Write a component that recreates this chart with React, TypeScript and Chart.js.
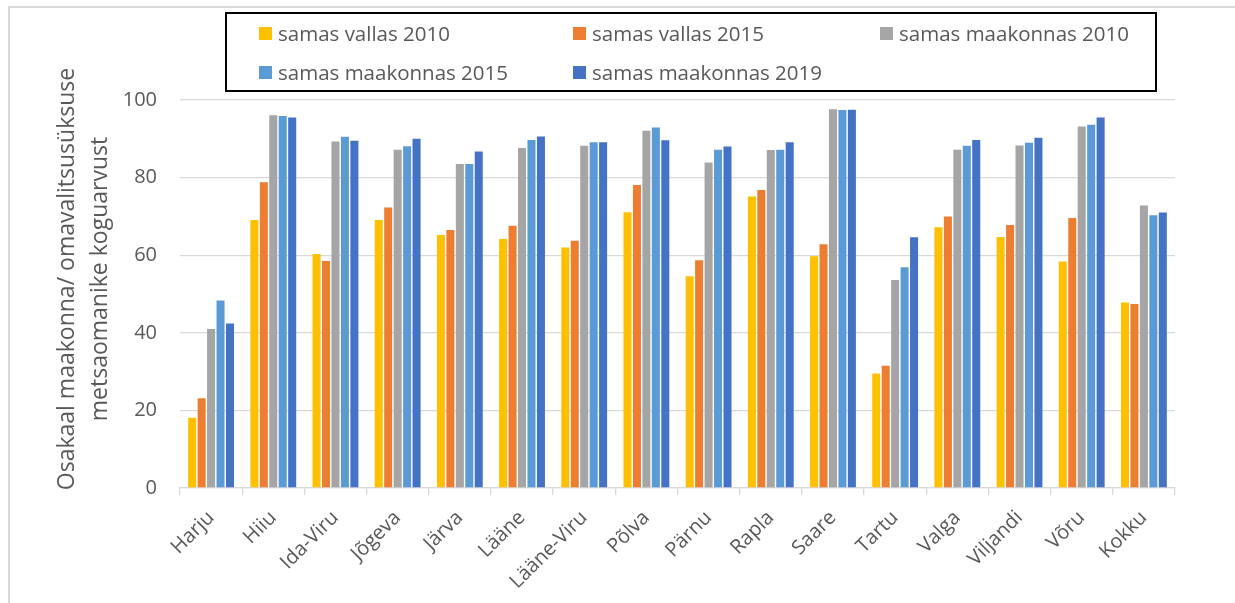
import React, { useEffect, useRef } from "react";
import { Chart, registerables } from "chart.js";

Chart.register(...registerables);

const categories = ["Harju", "Hiiu", "Ida-Viru", "Jõgeva", "Järva", "Lääne", "Lääne-Viru", "Põlva", "Pärnu", "Rapla", "Saare", "Tartu", "Valga", "Viljandi", "Võru", "Kokku"];
const vallas2010 = [18.1, 69.1, 60.3, 69.1, 65.2, 64.2, 62.0, 71.1, 54.6, 75.1, 59.7, 29.5, 67.2, 64.7, 58.4, 47.8];
const vallas2015 = [23.1, 78.8, 58.5, 72.3, 66.5, 67.6, 63.7, 78.1, 58.7, 76.8, 62.8, 31.5, 70.0, 67.8, 69.6, 47.4];
const maakonnas2010 = [41.0, 96.1, 89.3, 87.2, 83.5, 87.6, 88.2, 92.1, 83.9, 87.1, 97.6, 53.6, 87.2, 88.3, 93.2, 72.8];
const maakonnas2015 = [48.3, 95.9, 90.5, 88.1, 83.5, 89.7, 89.1, 92.9, 87.2, 87.2, 97.4, 56.9, 88.2, 89.0, 93.6, 70.3];
const maakonnas2019 = [42.4, 95.5, 89.5, 90.0, 86.7, 90.6, 89.1, 89.6, 88.0, 89.1, 97.5, 64.6, 89.7, 90.3, 95.5, 71.0];

const seriesLabels = ["samas vallas 2010", "samas vallas 2015", "samas maakonnas 2010", "samas maakonnas 2015", "samas maakonnas 2019"];
const seriesColors = ["#FFC000", "#ED7D31", "#A5A5A5", "#5B9BD5", "#4472C4"];
const seriesData = [vallas2010, vallas2015, maakonnas2010, maakonnas2015, maakonnas2019];

const yTitle = ["Osakaal maakonna/ omavalitsusüksuse", "metsaomanike koguarvust"];

const FONT = "'Open Sans', 'Noto Sans', sans-serif";
const TEXT = "#595959";
const GRID = "#D9D9D9";

const legendPos = [
  { left: 259, top: 33 },
  { left: 573, top: 33 },
  { left: 880, top: 33 },
  { left: 259, top: 72 },
  { left: 573, top: 72 },
];

const yTitlePlugin = {
  id: "yTitlePlugin",
  afterDraw(chart: any) {
    const ctx = chart.ctx;
    ctx.save();
    ctx.fillStyle = TEXT;
    ctx.font = `23px ${FONT}`;
    ctx.textAlign = "center";
    ctx.textBaseline = "middle";
    const cy = 279;
    yTitle.forEach((line, i) => {
      ctx.save();
      ctx.translate(67 + i * 33, cy);
      ctx.rotate(-Math.PI / 2);
      ctx.fillText(line, 0, 0);
      ctx.restore();
    });
    ctx.restore();
  },
};

export default function App() {
  const ref = useRef<HTMLCanvasElement | null>(null);

  useEffect(() => {
    if (!ref.current) return;
    const chart = new Chart(ref.current, {
      type: "bar",
      data: {
        labels: categories,
        datasets: seriesData.map((d, i) => ({
          label: seriesLabels[i],
          data: d,
          backgroundColor: seriesColors[i],
          borderWidth: 0,
          barPercentage: 0.85,
          categoryPercentage: 0.76,
        })),
      },
      plugins: [yTitlePlugin],
      options: {
        responsive: false,
        animation: false,
        layout: { padding: { top: 100, right: 60, left: 0, bottom: 0 } },
        plugins: {
          legend: { display: false },
          tooltip: { enabled: false },
        },
        scales: {
          x: {
            afterFit: (s: any) => {
              s.height = 115;
            },
            grid: {
              offset: true,
              drawOnChartArea: false,
              drawTicks: true,
              tickLength: 7,
              color: GRID,
              lineWidth: 1.3,
            },
            border: { color: GRID, width: 1.3 },
            ticks: {
              color: TEXT,
              font: { family: FONT, size: 20 },
              minRotation: 45,
              maxRotation: 45,
              autoSkip: false,
              padding: 11,
            },
          },
          y: {
            min: 0,
            max: 100,
            afterFit: (s: any) => {
              s.width = 180;
            },
            grid: {
              color: GRID,
              lineWidth: 1.3,
              drawTicks: false,
            },
            border: { display: false },
            ticks: {
              stepSize: 20,
              color: TEXT,
              font: { family: FONT, size: 20 },
              padding: 23,
            },
          },
        },
      },
    });
    return () => chart.destroy();
  }, []);

  return (
    <div style={{ position: "absolute", left: 0, top: 0, width: 1235, height: 603, overflow: "hidden", background: "#fff" }}>
      <div
        style={{
          position: "absolute",
          left: 8,
          top: 6,
          width: 1300,
          height: 700,
          borderLeft: `2px solid ${GRID}`,
          borderTop: `2px solid ${GRID}`,
        }}
      />
      <canvas ref={ref} width={1235} height={603} style={{ position: "absolute", left: 0, top: 0 }} />
      <div
        style={{
          position: "absolute",
          left: 225,
          top: 12,
          width: 1157 - 225 - 4,
          height: 92 - 12 - 4,
          border: "2px solid #000",
          background: "transparent",
        }}
      />
      {seriesLabels.map((lab, i) => (
        <div
          key={lab}
          style={{
            position: "absolute",
            left: legendPos[i].left,
            top: legendPos[i].top - 15,
            height: 30,
            display: "flex",
            alignItems: "center",
            fontFamily: FONT,
            fontSize: 20.5,
            color: TEXT,
            whiteSpace: "nowrap",
          }}
        >
          <span style={{ display: "inline-block", width: 13, height: 13, background: seriesColors[i], marginRight: 6 }} />
          <span>{lab}</span>
        </div>
      ))}
    </div>
  );
}
